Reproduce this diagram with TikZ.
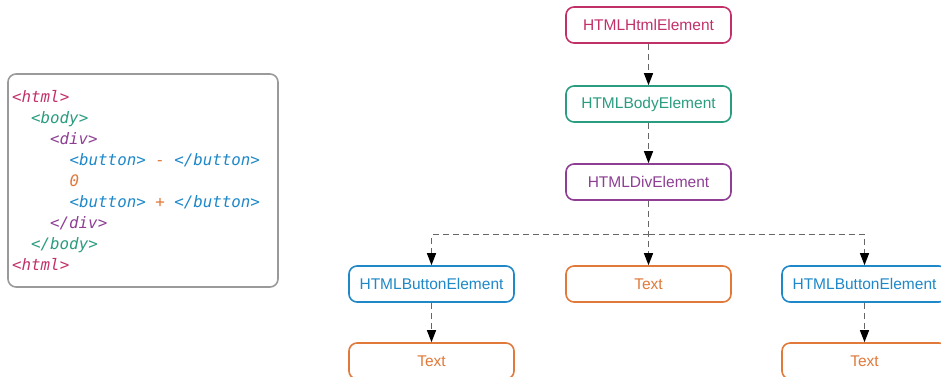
\documentclass[tikz,border=0pt]{standalone}
\usepackage{fontspec}
\setmainfont{Liberation Sans}
\newfontfamily\codefont{DejaVu Sans Mono}
\usetikzlibrary{arrows.meta}
\definecolor{htmlc}{HTML}{C2306A}
\definecolor{bodyc}{HTML}{2A9D80}
\definecolor{divc}{HTML}{8E3F94}
\definecolor{btnc}{HTML}{1E88C8}
\definecolor{txtc}{HTML}{E0793A}
\definecolor{edgec}{HTML}{666666}
\definecolor{framec}{HTML}{9A9A9A}
\begin{document}
\begin{tikzpicture}[x=1pt,y=-1pt,
  elem/.style={draw, line width=1.6pt, rounded corners=8pt, minimum width=165pt,
    minimum height=36pt, inner sep=0pt, font=\fontsize{15.5}{18}\selectfont, fill=white},
  link/.style={draw=edgec, line width=1.2pt, dash pattern=on 6pt off 4pt,
    -{Triangle[length=12pt,width=9pt,fill=black,color=black]}},
  code/.style={anchor=base west, inner sep=0pt, font=\codefont\itshape\fontsize{15.8}{18}\selectfont}
]
\useasboundingbox (0,0) rectangle (941,376);

% source listing
\node[draw=framec, line width=1.6pt, rounded corners=8pt, minimum width=270pt,
  minimum height=213pt, inner sep=0pt] (listing) at (143,180.5) {};
\node[code, text=htmlc] (l1) at (12,102) {<html>};
\node[code, text=bodyc] (l2) at (31,123) {<body>};
\node[code, text=divc]  (l3) at (50,144) {<div>};
\node[code] (l4) at (69.5,165) {\textcolor{btnc}{<button>} \textcolor{txtc}{-} \textcolor{btnc}{</button>}};
\node[code, text=txtc]  (l5) at (69.5,186) {0};
\node[code] (l6) at (69.5,207) {\textcolor{btnc}{<button>} \textcolor{txtc}{+} \textcolor{btnc}{</button>}};
\node[code, text=divc]  (l7) at (50,228) {</div>};
\node[code, text=bodyc] (l8) at (31,249) {</body>};
\node[code, text=htmlc] (l9) at (12,270) {<html>};

% DOM tree
\node[elem, draw=htmlc, text=htmlc] (html) at (648.5,25) {HTMLHtmlElement};
\node[elem, draw=bodyc, text=bodyc] (body) at (648.5,104) {HTMLBodyElement};
\node[elem, draw=divc, text=divc]   (div)  at (648.5,182) {HTMLDivElement};
\node[elem, draw=btnc, text=btnc]   (btnA) at (431.5,284) {HTMLButtonElement};
\node[elem, draw=txtc, text=txtc]   (txtM) at (648.5,284) {Text};
\node[elem, draw=btnc, text=btnc]   (btnB) at (864.5,284) {HTMLButtonElement};
\node[elem, draw=txtc, text=txtc]   (txtA) at (431.5,361) {Text};
\node[elem, draw=txtc, text=txtc]   (txtB) at (864.5,361) {Text};

\coordinate (split) at ([yshift=-34pt]div.south);

\draw[link] (html) -- (body);
\draw[link] (body) -- (div);
\draw[link] (div) -- (txtM);
\draw[link] (split) -| (btnA.north);
\draw[link] (split) -| (btnB.north);
\draw[link] (btnA) -- (txtA);
\draw[link] (btnB) -- (txtB);
\end{tikzpicture}
\end{document}
